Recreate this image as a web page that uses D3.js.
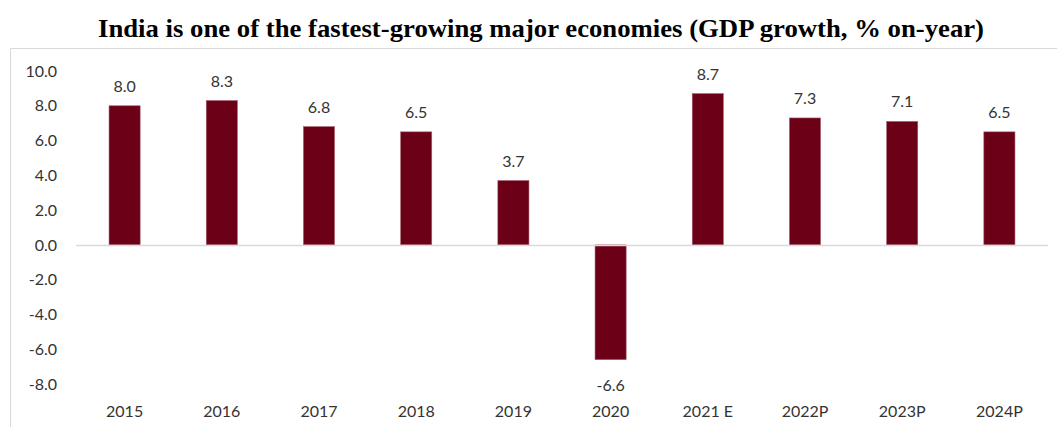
<!DOCTYPE html>
<html>
<head>
<meta charset="utf-8">
<script src="https://cdn.jsdelivr.net/npm/d3@7"></script>
<style>
  html, body { margin: 0; padding: 0; background: #fff; }
  svg { display: block; }
</style>
</head>
<body>
<svg id="chart" width="1057" height="427"></svg>
<script>
// GDP growth by year (% on-year); E = estimate, P = projection
const years = ["2015", "2016", "2017", "2018", "2019", "2020", "2021 E", "2022P", "2023P", "2024P"];
const growth = [8.0, 8.3, 6.8, 6.5, 3.7, -6.6, 8.7, 7.3, 7.1, 6.5];
const yTicks = [10, 8, 6, 4, 2, 0, -2, -4, -6, -8];
const titleText = "India is one of the fastest-growing major economies (GDP growth, % on-year)";

const data = years.map((y, i) => ({ year: y, value: growth[i] }));

const svg = d3.select("#chart");
const W = 1057, H = 427;
const plotLeft = 76, plotRight = 1048, plotTop = 71, plotBottom = 384;

const labelFont = "Lato, 'Open Sans', sans-serif";
const labelSize = 16;
const textColor = "#333";

// outer frame (left and top edges visible)
svg.append("path")
  .attr("d", `M10.5,${H} V48.5 H${W}`)
  .attr("fill", "none")
  .attr("stroke", "#d9d9d9")
  .attr("stroke-width", 1);

// title
svg.append("text")
  .attr("x", 541)
  .attr("y", 37)
  .attr("text-anchor", "middle")
  .attr("font-family", "'Liberation Serif', 'Times New Roman', serif")
  .attr("font-weight", "bold")
  .attr("font-size", 25)
  .attr("textLength", 886)
  .attr("lengthAdjust", "spacingAndGlyphs")
  .attr("fill", "#000")
  .text(titleText);

const x = d3.scaleBand().domain(years).range([plotLeft, plotRight]).paddingInner(0.68).paddingOuter(0.34);
const y = d3.scaleLinear().domain([-8, 10]).range([plotBottom, plotTop]);

// y axis labels (no axis line, no ticks)
const yAxis = d3.axisLeft(y).tickValues(yTicks).tickFormat(d3.format(".1f")).tickSize(0).tickPadding(0);
const yg = svg.append("g").attr("transform", `translate(57,0)`).call(yAxis);
yg.select(".domain").remove();
yg.selectAll("text")
  .attr("font-family", labelFont)
  .attr("font-size", labelSize)
  .attr("fill", textColor)
  .text(d => d3.format(".1f")(d).replace("−", "-"));

// bars
svg.append("g").selectAll("rect")
  .data(data)
  .join("rect")
  .attr("x", d => x(d.year))
  .attr("width", x.bandwidth())
  .attr("y", d => y(Math.max(0, d.value)))
  .attr("height", d => Math.abs(y(d.value) - y(0)))
  .attr("fill", "#6b0016")
  .attr("stroke", "#a3606c")
  .attr("stroke-width", 0.6);

// zero baseline
svg.append("line")
  .attr("x1", plotLeft).attr("x2", plotRight)
  .attr("y1", y(0) + 0.5).attr("y2", y(0) + 0.5)
  .attr("stroke", "#d9d9d9")
  .attr("stroke-width", 1.5);

// value labels
svg.append("g").selectAll("text")
  .data(data)
  .join("text")
  .attr("x", d => x(d.year) + x.bandwidth() / 2)
  .attr("y", d => d.value >= 0 ? y(d.value) - 14 : y(d.value) + 31)
  .attr("text-anchor", "middle")
  .attr("font-family", labelFont)
  .attr("font-size", labelSize)
  .attr("fill", textColor)
  .text(d => d3.format(".1f")(d.value).replace("−", "-"));

// category labels
const xAxis = d3.axisBottom(x).tickSize(0).tickPadding(0);
const xg = svg.append("g").attr("transform", `translate(0,405.5)`).call(xAxis);
xg.select(".domain").remove();
xg.selectAll("text")
  .attr("font-family", labelFont)
  .attr("font-size", labelSize)
  .attr("fill", textColor);
</script>
</body>
</html>
